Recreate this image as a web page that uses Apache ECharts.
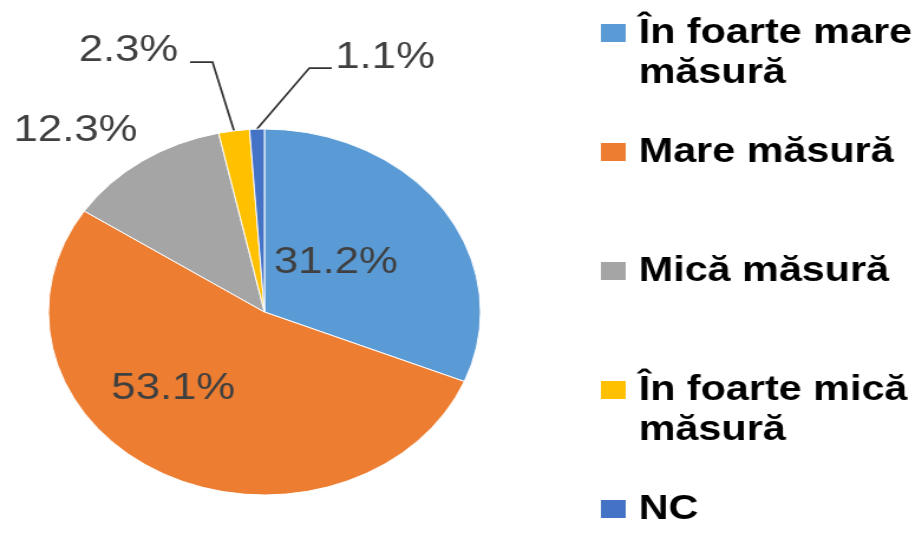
<!DOCTYPE html>
<html><head><meta charset="utf-8">
<script src="https://cdn.jsdelivr.net/npm/echarts@6/dist/echarts.min.js"></script>
<style>
html,body{margin:0;padding:0;background:#fff;overflow:hidden}
#wrap{width:922px;height:551px;overflow:hidden}
#chart{width:781px;height:551px;transform:scaleX(1.1806);transform-origin:0 0}
</style></head>
<body><div id="wrap"><div id="chart"></div></div>
<script>
const categories = ['În foarte mare\nmăsură', 'Mare măsură', 'Mică măsură', 'În foarte mică\nmăsură', 'NC'];
const values = [31.2, 53.1, 12.3, 2.3, 1.1];
const colors = ['#5B9BD5', '#ED7D31', '#A5A5A5', '#FFC000', '#4472C4'];

const labelPlace = [
  {dx: -18, dy: 3},
  {dx: -33, dy: -7},
  {x: 64, y: 131, align: 'center'},
  {x: 151, y: 51, align: 'right', bend: [180, 62], end: [161, 62]},
  {x: 284, y: 58, align: 'left', bend: [262, 68], end: [281, 68]}
];

const chart = echarts.init(document.getElementById('chart'), null, {renderer: 'canvas'});
chart.setOption({
  animation: false,
  backgroundColor: '#fff',
  legend: {
    orient: 'vertical', left: 507, top: -27, height: 900, padding: 0, itemGap: -1,
    itemWidth: 23, itemHeight: 20, icon: 'rect', selectedMode: false,
    textStyle: {fontFamily: 'Liberation Sans', fontWeight: 'bold', fontSize: 35, color: '#000', lineHeight: 40},
    formatter: n => n.includes('\n') ? '\n' + n : n,
    data: categories.map(n => ({name: n, textStyle: {padding: n.includes('\n') ? [0, 0, 0, 5] : [40, 0, 40, 5]}}))
  },
  series: [{
    type: 'pie',
    center: [224, 312],
    radius: 183,
    startAngle: 90,
    clockwise: true,
    avoidLabelOverlap: false,
    itemStyle: {borderColor: '#fff', borderWidth: 1},
    label: {
      fontFamily: 'Liberation Sans', fontSize: 37, color: '#404040',
      formatter: p => p.value.toFixed(1) + '%'
    },
    labelLine: {lineStyle: {color: '#333', width: 1.75}},
    labelLayout: function (p) {
      const c = labelPlace[p.dataIndex];
      if (c.dx !== undefined) return {dx: c.dx, dy: c.dy};
      const o = {x: c.x, y: c.y, align: c.align, verticalAlign: 'middle'};
      if (c.bend && p.labelLinePoints) o.labelLinePoints = [p.labelLinePoints[0], c.bend, c.end];
      return o;
    },
    data: categories.map((n, i) => ({
      name: n, value: values[i],
      itemStyle: {color: colors[i]},
      label: {position: i < 2 ? 'inside' : 'outside'},
      labelLine: {show: i >= 3}
    }))
  }]
});
</script>
</body></html>
